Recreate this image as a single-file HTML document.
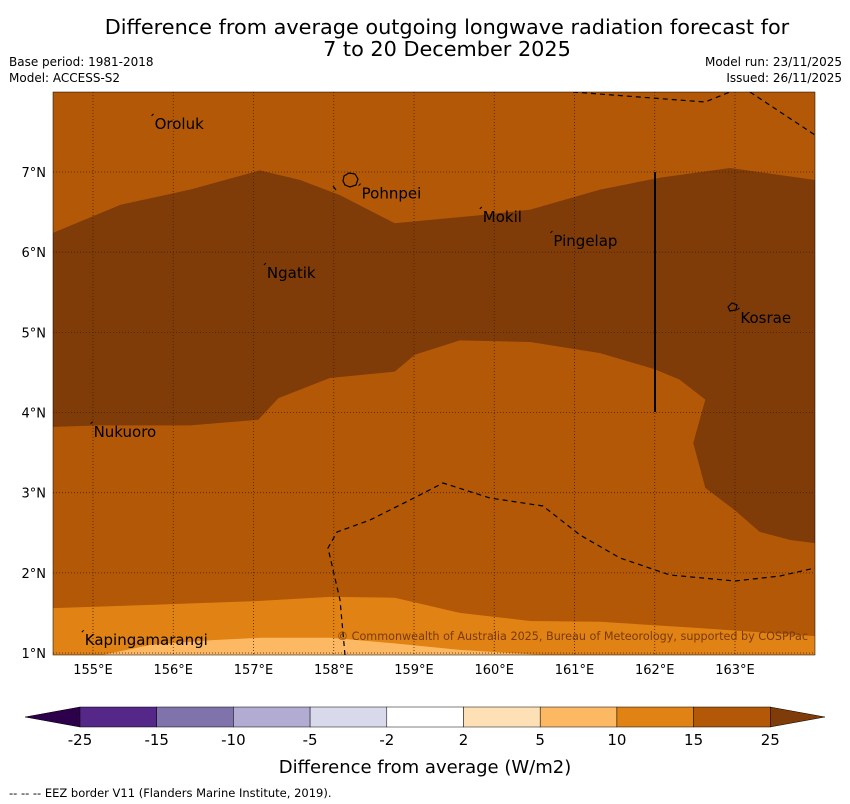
<!DOCTYPE html>
<html><head><meta charset="utf-8"><style>
body{margin:0;background:#fff;font-family:"DejaVu Sans","Liberation Sans",sans-serif;}
svg{display:block}
</style></head><body>
<svg id="c" width="850" height="804" xmlns="http://www.w3.org/2000/svg">
<text x="447" y="34" font-size="20.8" text-anchor="middle">Difference from average outgoing longwave radiation forecast for</text>
<text x="447" y="56" font-size="20.8" text-anchor="middle">7 to 20 December 2025</text>
<text x="9" y="66" font-size="12">Base period: 1981-2018</text>
<text x="9" y="82" font-size="12">Model: ACCESS-S2</text>
<text x="842" y="66" font-size="12" text-anchor="end">Model run: 23/11/2025</text>
<text x="842" y="82" font-size="12" text-anchor="end">Issued: 26/11/2025</text>
<defs><clipPath id="mc"><rect x="53" y="92" width="762" height="563"/></clipPath></defs>
<g id="map" clip-path="url(#mc)"></g>
<g id="axes"></g>
<g id="cbar"></g>
<text x="425" y="773" font-size="18" text-anchor="middle">Difference from average (W/m2)</text>
<text x="9" y="797" font-size="11.5">--  --  -- EEZ border V11 (Flanders Marine Institute, 2019).</text>
</svg>
<script>
const lonTicks=[155,156,157,158,159,160,161,162,163];
const latTicks=[1,2,3,4,5,6,7];
const darkLon=[154.5,155.34,156.21,157.08,157.58,158.08,158.76,159.82,160.45,161.32,162.07,162.94,164.0,164.0,163.69,163.31,163.0,162.63,162.48,162.63,162.31,162.0,161.32,160.45,159.57,159.01,158.76,157.95,157.31,157.06,156.21,155.09,154.5];
const darkLat=[6.24,6.59,6.78,7.02,6.90,6.71,6.36,6.46,6.53,6.78,6.93,7.05,6.90,2.37,2.41,2.51,2.78,3.06,3.62,4.16,4.41,4.54,4.74,4.88,4.90,4.72,4.51,4.43,4.18,3.91,3.84,3.84,3.82];
const lightLon=[154.5,155.71,157.08,157.95,158.76,159.57,160.45,161.32,162.57,164.0,164.0,154.5];
const lightLat=[1.56,1.60,1.65,1.70,1.69,1.50,1.40,1.39,1.31,1.21,0.9,0.9];
const palestLon=[155.09,155.71,156.46,157.08,157.95,158.76,159.57,160.69,160.69,155.09];
const palestLat=[0.97,1.10,1.16,1.19,1.19,1.12,1.04,0.97,0.9,0.9];
const places=[["Oroluk",155.73,7.6],["Pohnpei",158.31,6.73],["Mokil",159.82,6.44],["Pingelap",160.7,6.14],["Ngatik",157.13,5.74],["Kosrae",163.03,5.18],["Nukuoro",154.97,3.76],["Kapingamarangi",154.86,1.16]];
const cbLevels=["-25","-15","-10","-5","-2","2","5","10","15","25"];
const cbColors=["#542788","#8073ac","#b2abd2","#d8daeb","#ffffff","#fee0b6","#fdb863","#e08214","#b35806"];
const X=lon=>93+(lon-155)*80.25, Y=lat=>172-(lat-7)*80.17;
const NS="http://www.w3.org/2000/svg";
function mk(t,a,p){const e=document.createElementNS(NS,t);for(const k in a)e.setAttribute(k,a[k]);p.appendChild(e);return e;}
const map=document.getElementById('map'),axes=document.getElementById('axes'),cb=document.getElementById('cbar');
let r=mk('rect',{x:53,y:92,width:762,height:563,fill:'#b35806'},map);


function poly(lo,la,fill,name){const p=mk('polygon',{points:lo.map((v,i)=>X(v)+','+Y(la[i])).join(' '),fill:fill},map);

}
poly(darkLon,darkLat,'#7f3b08','region-above-15');
poly(lightLon,lightLat,'#e08214','region-5-10');
poly(palestLon,palestLat,'#fdb863','region-2-5');
lonTicks.forEach(l=>{const g=mk('line',{x1:X(l),x2:X(l),y1:92,y2:655,stroke:'#4a2000','stroke-width':0.8,'stroke-dasharray':'1,2'},map);


const t=mk('text',{x:X(l),y:674,'font-size':13,'text-anchor':'middle'},axes);t.textContent=l+'°E';

});
latTicks.forEach(l=>{const g=mk('line',{x1:53,x2:815,y1:Y(l),y2:Y(l),stroke:'#4a2000','stroke-width':0.8,'stroke-dasharray':'1,2'},map);


const t=mk('text',{x:46,y:Y(l)+5,'font-size':13,'text-anchor':'end'},axes);t.textContent=l+'°N';

});
const eez=["573,92 705,102 735,90","750,92 815,135","345,655 340,600 328,548 337,532 370,520 410,500 443,483 490,498 543,506 580,535 620,558 670,575 735,581 780,576 815,568","333,186 336,190"];
eez.forEach(s=>{const e=mk('polyline',{points:s,fill:'none',stroke:'#000','stroke-width':1.2,'stroke-dasharray':'5,4'},map);

});
let ln=mk('line',{x1:655,x2:655,y1:172,y2:412,stroke:'#000','stroke-width':2},map);


let isl=mk('path',{d:'M344,176 l5,-3 l6,1 l3,5 l-2,6 l-6,2 l-5,-2 l-2,-4z',fill:'none',stroke:'#000','stroke-width':1.2},map);


let isk=mk('path',{d:'M728,307 l4,-4 l5,2 l-1,5 l-6,1z',fill:'none',stroke:'#000','stroke-width':1.2},map);


places.forEach(p=>{const t=mk('text',{x:X(p[1])+3,y:Y(p[2])+5,'font-size':15},map);t.textContent=p[0];


const m=mk('line',{x1:X(p[1]),y1:Y(p[2])-8,x2:X(p[1])+2,y2:Y(p[2])-10,stroke:'#000','stroke-width':1},map);

});
let cp=mk('text',{x:808,y:640,'font-size':11.2,'text-anchor':'end',fill:'#7a3a0a'},map);cp.textContent='© Commonwealth of Australia 2025, Bureau of Meteorology, supported by COSPPac';


let fr=mk('rect',{x:53,y:92,width:762,height:563,fill:'none',stroke:'#000','stroke-width':0.5},axes);


const cx=i=>80+i*76.7;
let tl=mk('polygon',{points:'80,707 80,727 25,717',fill:'#2d004b',stroke:'#000','stroke-width':0.5},cb);


let tr=mk('polygon',{points:'770,707 770,727 825,717',fill:'#7f3b08',stroke:'#000','stroke-width':0.5},cb);


cbColors.forEach((c,i)=>{const s=mk('rect',{x:cx(i),y:707,width:76.7,height:20,fill:c,stroke:'#000','stroke-width':0.5},cb);

});
cbLevels.forEach((v,i)=>{const t=mk('text',{x:cx(i),y:745,'font-size':15,'text-anchor':'middle'},cb);t.textContent=v;

});
</script>
</body></html>
